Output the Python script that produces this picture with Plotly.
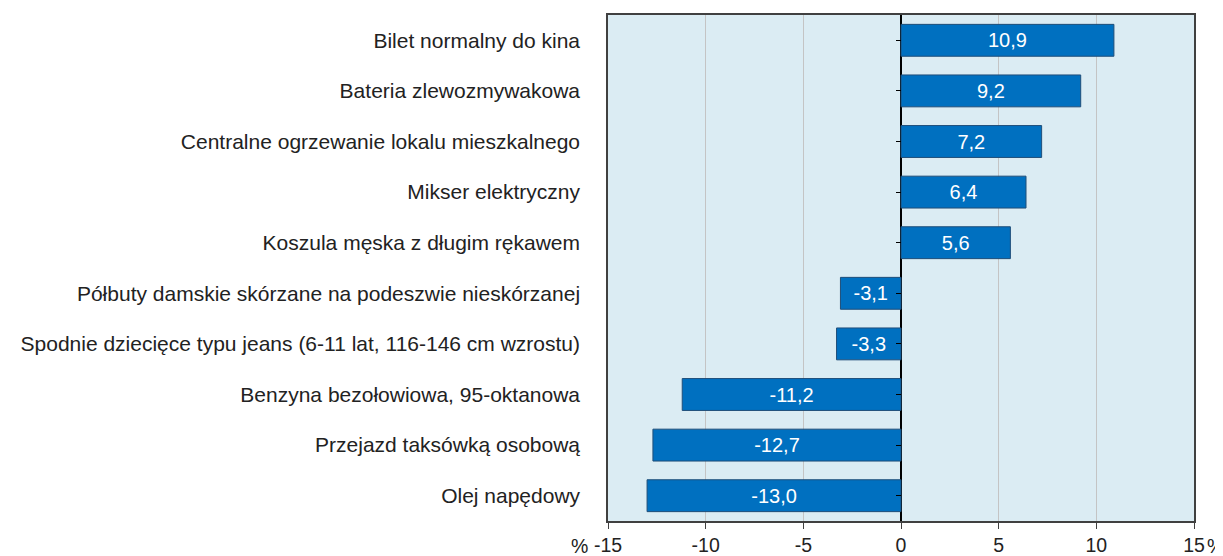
import plotly.graph_objects as go

categories = [
    "Bilet normalny do kina",
    "Bateria zlewozmywakowa",
    "Centralne ogrzewanie lokalu mieszkalnego",
    "Mikser elektryczny",
    "Koszula męska z długim rękawem",
    "Półbuty damskie skórzane na podeszwie nieskórzanej",
    "Spodnie dziecięce typu jeans (6-11 lat, 116-146 cm wzrostu)",
    "Benzyna bezołowiowa, 95-oktanowa",
    "Przejazd taksówką osobową",
    "Olej napędowy",
]
changes = [10.9, 9.2, 7.2, 6.4, 5.6, -3.1, -3.3, -11.2, -12.7, -13.0]
x_ticks = [-15, -10, -5, 0, 5, 10, 15]

font = "Liberation Sans, Arial, sans-serif"

fig = go.Figure()
fig.add_trace(go.Bar(
    x=changes, y=categories, orientation="h",
    marker=dict(color="#0070C0", line=dict(color="#1F4E79", width=1)),
    width=0.63,
    text=[f"{v:.1f}".replace(".", ",") for v in changes],
    textposition="inside", insidetextanchor="middle",
    textfont=dict(color="white", size=20, family=font),
    showlegend=False, hoverinfo="skip",
))
# invisible trace so the second y axis (ticks on the zero line) is drawn
fig.add_trace(go.Scatter(x=[None] * len(categories), y=categories, yaxis="y2",
                         mode="markers", showlegend=False, hoverinfo="skip"))

# page body has an 8px margin, so margins are shifted to compensate
fig.update_layout(
    width=1223, height=556,
    margin=dict(l=600, r=37, t=7, b=43, autoexpand=False),
    paper_bgcolor="white", plot_bgcolor="#DBECF3",
    font=dict(family=font, size=21, color="#222222"),
    xaxis=dict(range=[-15, 15], tickvals=x_ticks, ticktext=[str(t) for t in x_ticks],
               showgrid=True, gridcolor="#C4C4C4", gridwidth=1,
               zeroline=True, zerolinecolor="black", zerolinewidth=1.5,
               showline=True, linecolor="#404040", linewidth=1.5, mirror=True,
               ticks="outside", ticklen=6, tickcolor="#404040",
               tickfont=dict(size=19.5), fixedrange=True, automargin=False),
    yaxis=dict(categoryorder="array", categoryarray=categories[::-1],
               autorange=False, range=[-0.5, len(categories) - 0.5],
               showline=True, linecolor="#404040", linewidth=1.5, mirror=True,
               showgrid=False, ticks="", ticklabelstandoff=22,
               tickfont=dict(size=21), automargin=False),
    yaxis2=dict(overlaying="y", matches="y", anchor="free", position=0.5,
                side="left", showticklabels=False, ticks="outside",
                ticklen=5, tickcolor="black", showgrid=False,
                showline=False, zeroline=False, automargin=False),
    separators=", ",
    bargap=0.37,
)

fig.add_annotation(text="%", xref="paper", yref="paper", x=-0.049, y=0,
                   xanchor="center", yanchor="middle", yshift=-25,
                   showarrow=False, font=dict(size=19.5))
fig.add_annotation(text="%", xref="paper", yref="paper", x=1.036, y=0,
                   xanchor="center", yanchor="middle", yshift=-25,
                   showarrow=False, font=dict(size=19.5))

fig.write_html("out.html")
